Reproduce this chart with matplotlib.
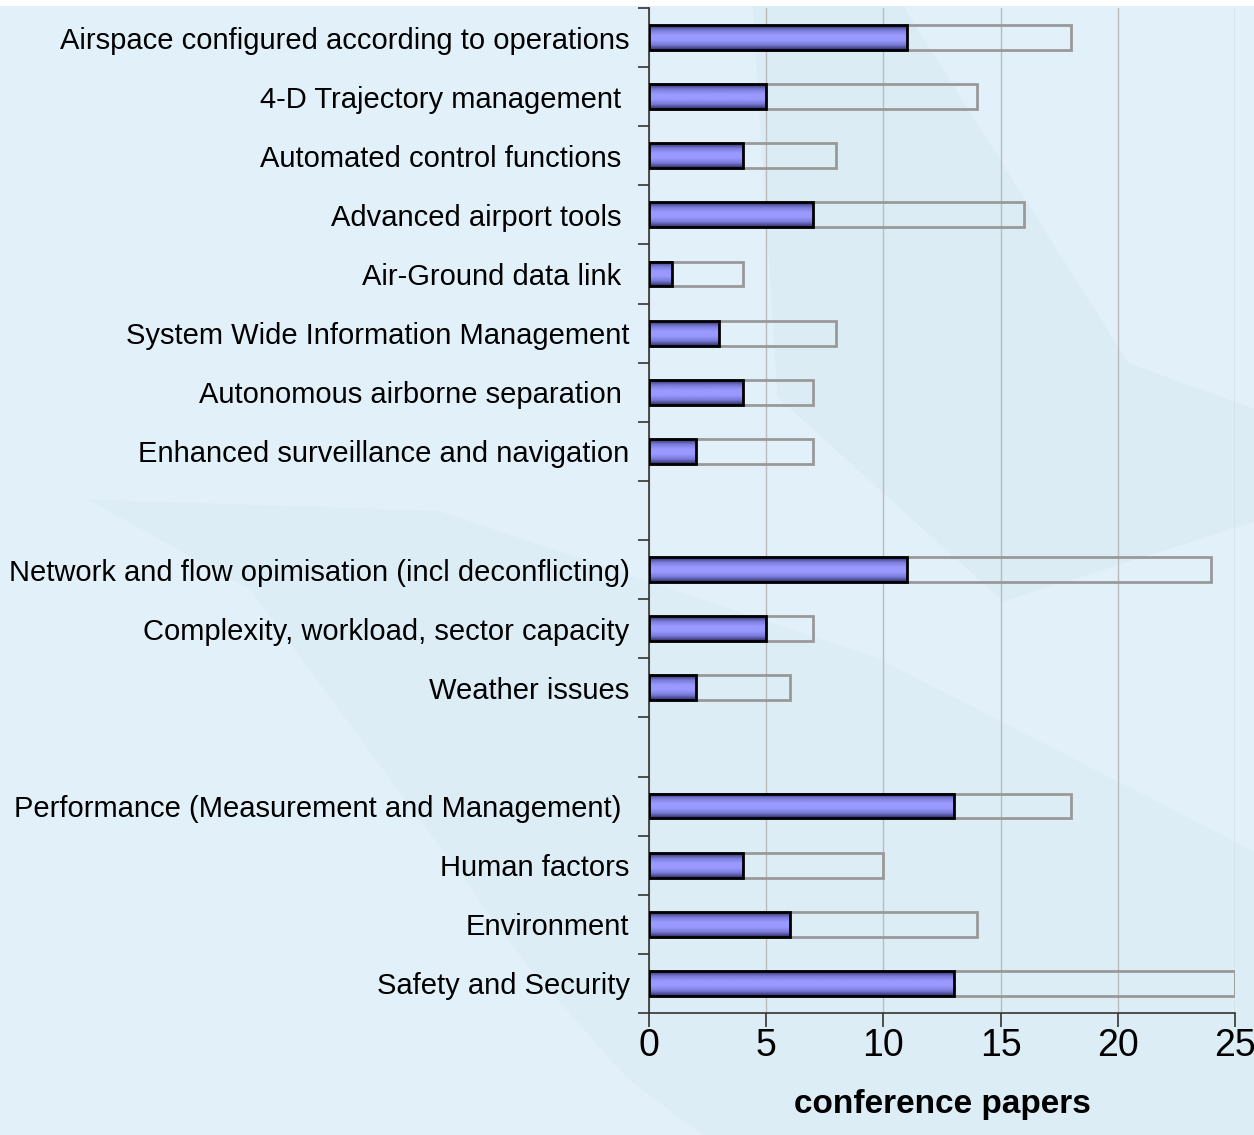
import numpy as np
import matplotlib.pyplot as plt
from matplotlib.colors import LinearSegmentedColormap
from matplotlib.patches import Polygon

plt.rcParams['font.family'] = ['Liberation Sans', 'DejaVu Sans']

# categories top to bottom, '' marks the empty spacer rows
categories = [
    'Airspace configured according to operations',
    '4-D Trajectory management ',
    'Automated control functions ',
    'Advanced airport tools ',
    'Air-Ground data link ',
    'System Wide Information Management',
    'Autonomous airborne separation ',
    'Enhanced surveillance and navigation',
    '',
    'Network and flow opimisation (incl deconflicting)',
    'Complexity, workload, sector capacity',
    'Weather issues',
    '',
    'Performance (Measurement and Management) ',
    'Human factors',
    'Environment',
    'Safety and Security',
]
accepted = [11, 5, 4, 7, 1, 3, 4, 2, 0, 11, 5, 2, 0, 13, 4, 6, 13]
submitted = [18, 14, 8, 16, 4, 8, 7, 7, 0, 24, 7, 6, 0, 18, 10, 14, 25]
xticks = [0, 5, 10, 15, 20, 25]

bg = '#e2f1f9'
fig = plt.figure(figsize=(12.54, 11.35), dpi=100, facecolor=bg)

# faint background swooshes
fig.patches.append(Polygon([[0.0, 0.995], [1.0, 0.995], [1.0, 1.0], [0.0, 1.0]],
                           closed=True, transform=fig.transFigure,
                           facecolor='white', edgecolor='none', zorder=-5))
fig.patches.append(Polygon([[0.6, 0.995], [0.72, 0.995], [0.9, 0.68], [1.0, 0.64],
                            [1.0, 0.54], [0.8, 0.47], [0.62, 0.65]],
                           closed=True, transform=fig.transFigure,
                           facecolor='#d6e8f2', edgecolor='none', alpha=0.45, zorder=-4))
fig.patches.append(Polygon([[0.07, 0.56], [0.2, 0.48], [0.3, 0.33], [0.42, 0.15],
                            [0.5, 0.05], [0.56, 0.0], [1.0, 0.0], [1.0, 0.25],
                            [0.7, 0.42], [0.35, 0.55]],
                           closed=True, transform=fig.transFigure,
                           facecolor='#d8eaf4', edgecolor='none', alpha=0.45, zorder=-4))

ax = fig.add_axes([0.5175, 0.1075, 0.4673, 0.8855])
ax.set_facecolor('none')

y = np.arange(len(categories))
h = 0.42
rows = [i for i, c in enumerate(categories) if c]

# totals as outlined boxes
ax.barh([y[i] for i in rows], [submitted[i] for i in rows], height=h,
        facecolor='none', edgecolor='#999999', linewidth=2, zorder=2)

# accepted bars with a vertical shading
cmap = LinearSegmentedColormap.from_list('shade', ['#2e2e66', '#7a7ad8', '#9999ff',
                                                    '#9999ff', '#7a7ad8', '#2e2e66'])
grad = np.linspace(0, 1, 64).reshape(-1, 1)
for i in rows:
    ax.imshow(grad, cmap=cmap, aspect='auto', interpolation='bilinear',
              extent=[0, accepted[i], y[i] + h / 2, y[i] - h / 2], zorder=3)
ax.barh([y[i] for i in rows], [accepted[i] for i in rows], height=h,
        facecolor='none', edgecolor='black', linewidth=2, zorder=4)

ax.set_xlim(0, 25)
ax.set_ylim(len(categories) - 0.5, -0.5)

ax.set_xticks(xticks)
ax.tick_params(axis='x', labelsize=27, length=10, width=1.2, pad=1, color='#333333')
ax.set_yticks(y)
ax.set_yticklabels(categories, fontsize=21)
ax.set_yticks(np.arange(-0.5, len(categories) + 0.5, 1), minor=True)
ax.tick_params(axis='y', which='major', length=0, pad=14)
ax.tick_params(axis='y', which='minor', length=8, width=1.2, color='#333333')

ax.grid(axis='x', color='#bbbbbb', linewidth=1)
ax.set_axisbelow(True)
for s in ['top', 'right']:
    ax.spines[s].set_visible(False)
for s in ['left', 'bottom']:
    ax.spines[s].set_color('#333333')
    ax.spines[s].set_linewidth(1.2)

ax.set_xlabel('conference papers', fontsize=24, fontweight='bold', labelpad=18)

fig.savefig('out.png', dpi=100, facecolor=fig.get_facecolor())
